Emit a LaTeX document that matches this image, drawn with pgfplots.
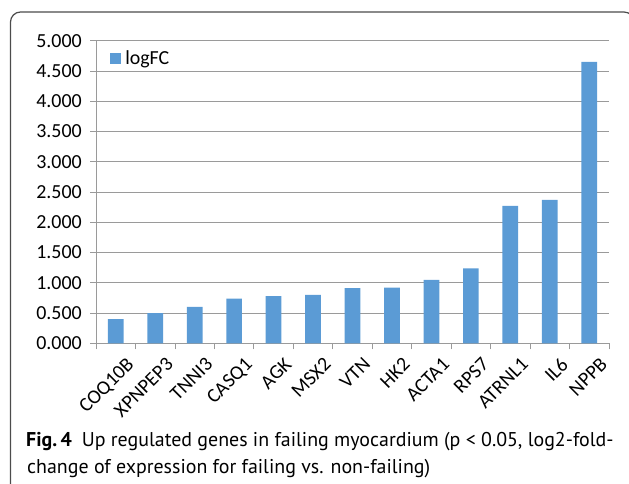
\documentclass[border=0pt]{standalone}
\usepackage{pgfplots}
\pgfplotsset{compat=1.18}
\usepackage{fontspec}
\setmainfont{Carlito}
\newfontfamily\capfont{PT Sans}
\definecolor{barblue}{HTML}{5B9BD5}
\definecolor{gridgray}{HTML}{9A9A9A}
\begin{document}
\begin{tikzpicture}
\useasboundingbox (0,0) rectangle (629bp,484bp);
\draw[line width=1.2bp, black!70, rounded corners=10bp] (10.5bp,-10bp) rectangle (634bp,472bp);
\begin{axis}[
  at={(96bp,140.7bp)}, anchor=south west,
  scale only axis, width=513bp, height=302.6bp,
  xmin=-0.5, xmax=12.5, ymin=0, ymax=5, enlargelimits=false,
  axis lines=left, axis line style={-, draw=gridgray, line width=0.8bp},
  ymajorgrids, grid style={gridgray, line width=0.8bp},
  ytick={0,0.5,1,1.5,2,2.5,3,3.5,4,4.5,5},
  yticklabel style={/pgf/number format/fixed, /pgf/number format/fixed zerofill, /pgf/number format/precision=3, /pgf/number format/assume math mode=true, anchor=east, inner sep=0pt, xshift=-8bp},
  xtick={0,1,2,3,4,5,6,7,8,9,10,11,12},
  xticklabels={COQ10B,XPNPEP3,TNNI3,CASQ1,AGK,MSX2,VTN,HK2,ACTA1,RPS7,ATRNL1,IL6,NPPB},
  minor xtick={-0.5,0.5,1.5,2.5,3.5,4.5,5.5,6.5,7.5,8.5,9.5,10.5,11.5,12.5},
  major x tick style={draw=none},
  xticklabel style={rotate=45, anchor=north east, inner sep=0pt, xshift=2bp, yshift=-12bp},
  tick align=outside, major tick length=6bp, minor tick length=6bp,
  tick style={draw=gridgray, line width=0.8bp},
  ticklabel style={font=\fontsize{20}{24}\selectfont},
  bar width=15.7bp,
  legend style={at={(0,1)}, anchor=north west, xshift=14bp, yshift=-8bp, draw=none, fill=none, inner sep=0pt, column sep=2.5bp, font=\fontsize{20}{24}\selectfont},
  legend image code/.code={\fill[barblue] (0bp,-5.3bp) rectangle (10.6bp,5.3bp);},
]
\addplot[ybar, fill=barblue, draw=none] coordinates {
(0,0.40) (1,0.50) (2,0.60) (3,0.74) (4,0.78) (5,0.80) (6,0.91) (7,0.92) (8,1.05) (9,1.24) (10,2.27) (11,2.37) (12,4.65)
};
\legend{logFC}
\end{axis}
\node[anchor=base west, inner sep=0pt, font=\capfont\fontsize{20}{27}\selectfont] at (26bp,38bp) {\textbf{Fig.\,4}\hspace{0.5em}Up regulated genes in failing myocardium (p < 0.05, log2-fold-};
\node[anchor=base west, inner sep=0pt, font=\capfont\fontsize{20}{27}\selectfont] at (27bp,11bp) {change of expression for failing vs. non-failing)};
\end{tikzpicture}
\end{document}
